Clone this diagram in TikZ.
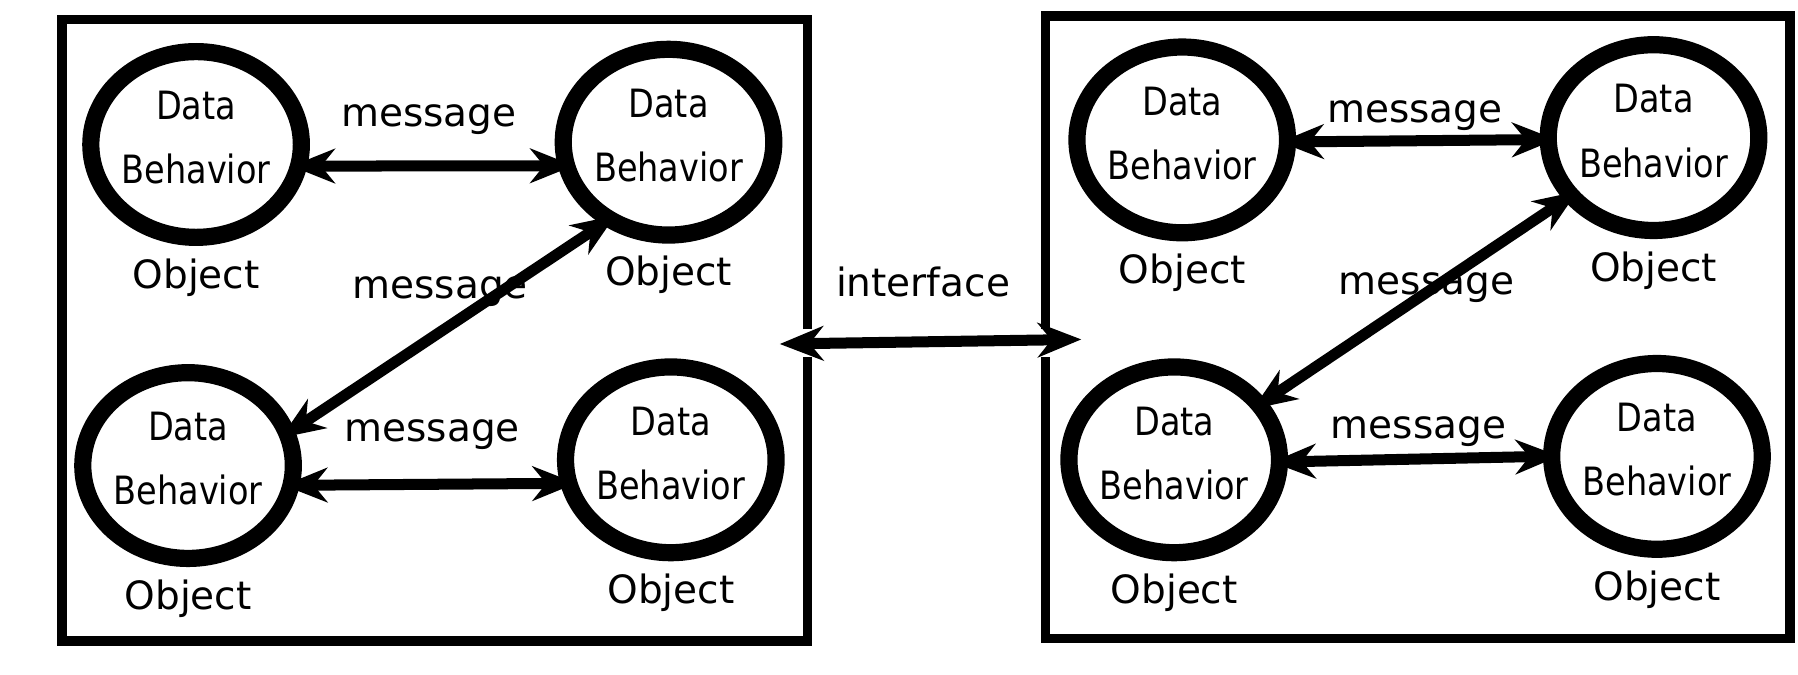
\documentclass[tikz,border=0pt]{standalone}
\usepackage{fontspec}
\setmainfont{DejaVu Sans}
\newfontfamily\narrowfont[FakeStretch=0.86]{DejaVu Sans}
\usepackage{tikz}
\usetikzlibrary{arrows.meta, positioning, shapes.geometric}

\tikzset{
    obj/.style={ellipse, draw, line width=7.5pt, minimum width=89.5pt, minimum height=81pt,
        inner sep=0pt, align=center, text depth=6pt, font=\narrowfont\fontsize{17}{28}\selectfont},
    objname/.style={font=\fontsize{17}{20}\selectfont},
    msgtext/.style={font=\fontsize{17}{20}\selectfont},
    msg/.style={line width=4.8pt, {Stealth[length=19pt,width=15pt,inset=6pt]}-{Stealth[length=19pt,width=15pt,inset=6pt]},
        shorten <=-7pt, shorten >=-7pt},
    frame/.style={line width=4pt}
}

\begin{document}
\begin{tikzpicture}[x=0.5pt, y=-0.5pt]
        \useasboundingbox (0,0) rectangle (1568,588.6);

        % left system
        \draw[frame] (704,287) -- (704,17) -- (54,17) -- (54,559) -- (704,559) -- (704,311);
        \node[obj] (la) at (171,126) {Data\\Behavior};
        \node[obj] (lb) at (583,124) {Data\\Behavior};
        \node[obj] (lc) at (164,406) {Data\\Behavior};
        \node[obj] (ld) at (585,401) {Data\\Behavior};
        \node[objname, below=2pt of la] (lao) {Object};
        \node[objname, below=2pt of lb] (lbo) {Object};
        \node[objname, below=2pt of lc] (lco) {Object};
        \node[objname, below=2pt of ld] (ldo) {Object};

        \draw[msg] (la.-11) -- (lb.192);
        \draw[msg] (lb.231) -- (lc.19);
        \draw[msg] (lc.-10) -- (ld.192);
        \node[msgtext] (lm1) at (374,104) {message};
        \node[msgtext] (lm2) at (384,254) {message};
        \node[msgtext] (lm3) at (377,379) {message};

        % right system
        \draw[frame] (912,287) -- (912,14) -- (1561,14) -- (1561,557) -- (912,557) -- (912,311);
        \node[obj] (ra) at (1031,122) {Data\\Behavior};
        \node[obj] (rb) at (1442,120) {Data\\Behavior};
        \node[obj] (rc) at (1024,401) {Data\\Behavior};
        \node[obj] (rd) at (1445,398) {Data\\Behavior};
        \node[objname, below=2pt of ra] (rao) {Object};
        \node[objname, below=2pt of rb] (rbo) {Object};
        \node[objname, below=2pt of rc] (rco) {Object};
        \node[objname, below=2pt of rd] (rdo) {Object};

        \draw[msg] (ra.-1) -- (rb.181);
        \draw[msg] (rb.215) -- (rc.33);
        \draw[msg] (rc.-1) -- (rd.180);
        \node[msgtext] (rm1) at (1234,101) {message};
        \node[msgtext] (rm2) at (1244,251) {message};
        \node[msgtext] (rm3) at (1237,376) {message};

        % between the two
        \coordinate (ileft) at (680,300);
        \coordinate (iright) at (943,296);
        \draw[msg, shorten <=0pt, shorten >=0pt] (ileft) -- (iright);
        \node[msgtext] (itext) at (805,246) {interface};
\end{tikzpicture}
\end{document}
